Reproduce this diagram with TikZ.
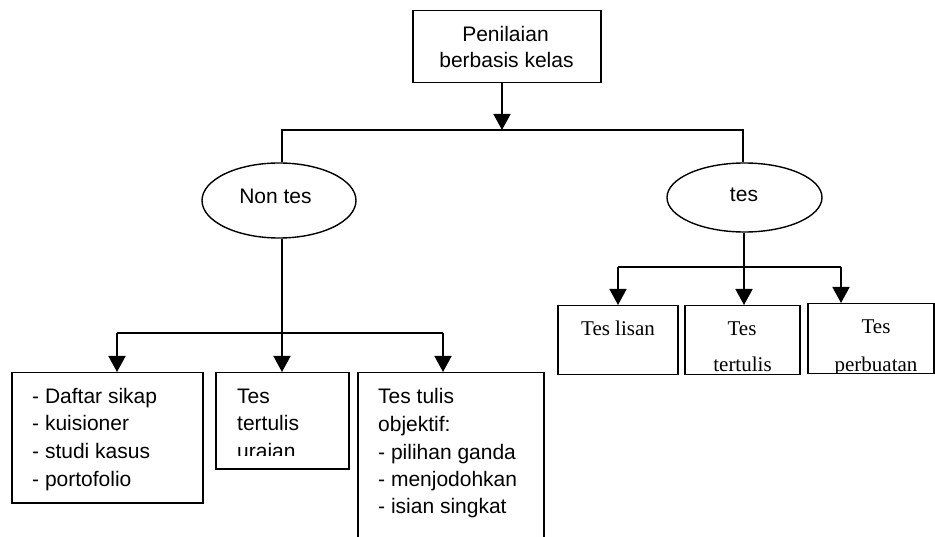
\documentclass[tikz,border=0pt]{standalone}
\usepackage{fontspec}
\setmainfont{Liberation Sans}
\newfontfamily\tnrfont{Liberation Serif}
\usetikzlibrary{arrows.meta,shapes.geometric}
\begin{document}
\begin{tikzpicture}[x=1pt,y=-1pt,
  box/.style={draw,line width=1.5pt,rectangle,inner sep=0pt,anchor=north west},
  oval/.style={draw,line width=1.4pt,ellipse,inner sep=0pt},
  conn/.style={line width=1.6pt},
  arr/.style={conn,-{Triangle[width=17pt,length=16pt]}},
  sans/.style={font=\fontsize{21}{25}\selectfont,inner sep=0pt},
  serif/.style={font=\tnrfont\fontsize{21}{25}\selectfont,inner sep=0pt}]
\useasboundingbox (0,0) rectangle (935,537);
\clip (0,0) rectangle (935,537);

% boxes
\node[box,minimum width=188pt,minimum height=72pt] (top) at (412,10) {};
\node[box,minimum width=191pt,minimum height=130pt] (b1) at (11,372) {};
\node[box,minimum width=133pt,minimum height=96pt] (b2) at (215,372) {};
\node[box,minimum width=186pt,minimum height=200pt] (b3) at (357,372) {};
\node[box,minimum width=120pt,minimum height=69pt] (bA) at (557,305) {};
\node[box,minimum width=115pt,minimum height=69pt] (bB) at (684,305) {};
\node[box,minimum width=126pt,minimum height=70pt] (bC) at (807,303) {};

% ellipses
\node[oval,minimum width=154pt,minimum height=75pt] (nontes) at (279,200.5) {};
\node[oval,minimum width=155pt,minimum height=69pt] (tes) at (744.5,197.5) {};

% texts
\node[sans,anchor=base] (tp1) at (505.5,41.7) {Penilaian};
\node[sans,anchor=base] (tp2) at (506.5,68) {berbasis kelas};
\node[sans,anchor=base] (tnon) at (275.5,204) {Non tes};
\node[sans,anchor=base] (ttes) at (744,202) {tes};

\node[sans,anchor=base west] (l1a) at (32,403) {- Daftar sikap};
\node[sans,anchor=base west] (l1b) at (32,431) {- kuisioner};
\node[sans,anchor=base west] (l1c) at (32,458) {- studi kasus};
\node[sans,anchor=base west] (l1d) at (32,486) {- portofolio};

\begin{scope}
\clip (215,372) rectangle (348,455.5);
\node[sans,anchor=base west] (l2a) at (237,403) {Tes};
\node[sans,anchor=base west] (l2b) at (237,431) {tertulis};
\node[sans,anchor=base west] (l2c) at (237,458.5) {uraian};
\end{scope}

\node[sans,anchor=base west] (l3a) at (378,403) {Tes tulis};
\node[sans,anchor=base west] (l3b) at (378,431.5) {objektif:};
\node[sans,anchor=base west] (l3c) at (378,459) {- pilihan ganda};
\node[sans,anchor=base west] (l3d) at (378,486.5) {- menjodohkan};
\node[sans,anchor=base west] (l3e) at (378,513.5) {- isian singkat};

\node[serif,anchor=base] (sA) at (618,336) {Tes lisan};
\node[serif,anchor=base] (sB1) at (742,336) {Tes};
\begin{scope}
\clip (684,305) rectangle (799,373.5);
\node[serif,anchor=base] (sB2) at (742.5,372) {tertulis};
\end{scope}
\node[serif,anchor=base] (sC1) at (876,334) {Tes};
\begin{scope}
\clip (807,303) rectangle (933,372.5);
\node[serif,anchor=base] (sC2) at (876,371.5) {perbuatan};
\end{scope}

% connectors
\coordinate (j0) at (502,130);
\coordinate (jL) at (282,130);
\coordinate (jR) at (743,130);
\draw[arr] (j0 |- top.south) -- (j0);
\draw[conn] (jL |- nontes.north) -- (jL) -- (jR) -- (jR |- tes.north);

\coordinate (kL) at (117,333);
\coordinate (kM) at (282,333);
\coordinate (kR) at (443,333);
\draw[conn] (kL) -- (kR);
\draw[arr] (kM |- nontes.south) -- (kM |- b2.north);
\draw[arr] (kL) -- (kL |- b1.north);
\draw[arr] (kR) -- (kR |- b3.north);

\coordinate (mL) at (618,267);
\coordinate (mM) at (744,267);
\coordinate (mR) at (841,267);
\draw[conn] (mL) -- (mR);
\draw[arr] (mM |- tes.south) -- (mM |- bB.north);
\draw[arr] (mL) -- (mL |- bA.north);
\draw[arr] (mR) -- (mR |- bC.north);
\end{tikzpicture}
\end{document}
